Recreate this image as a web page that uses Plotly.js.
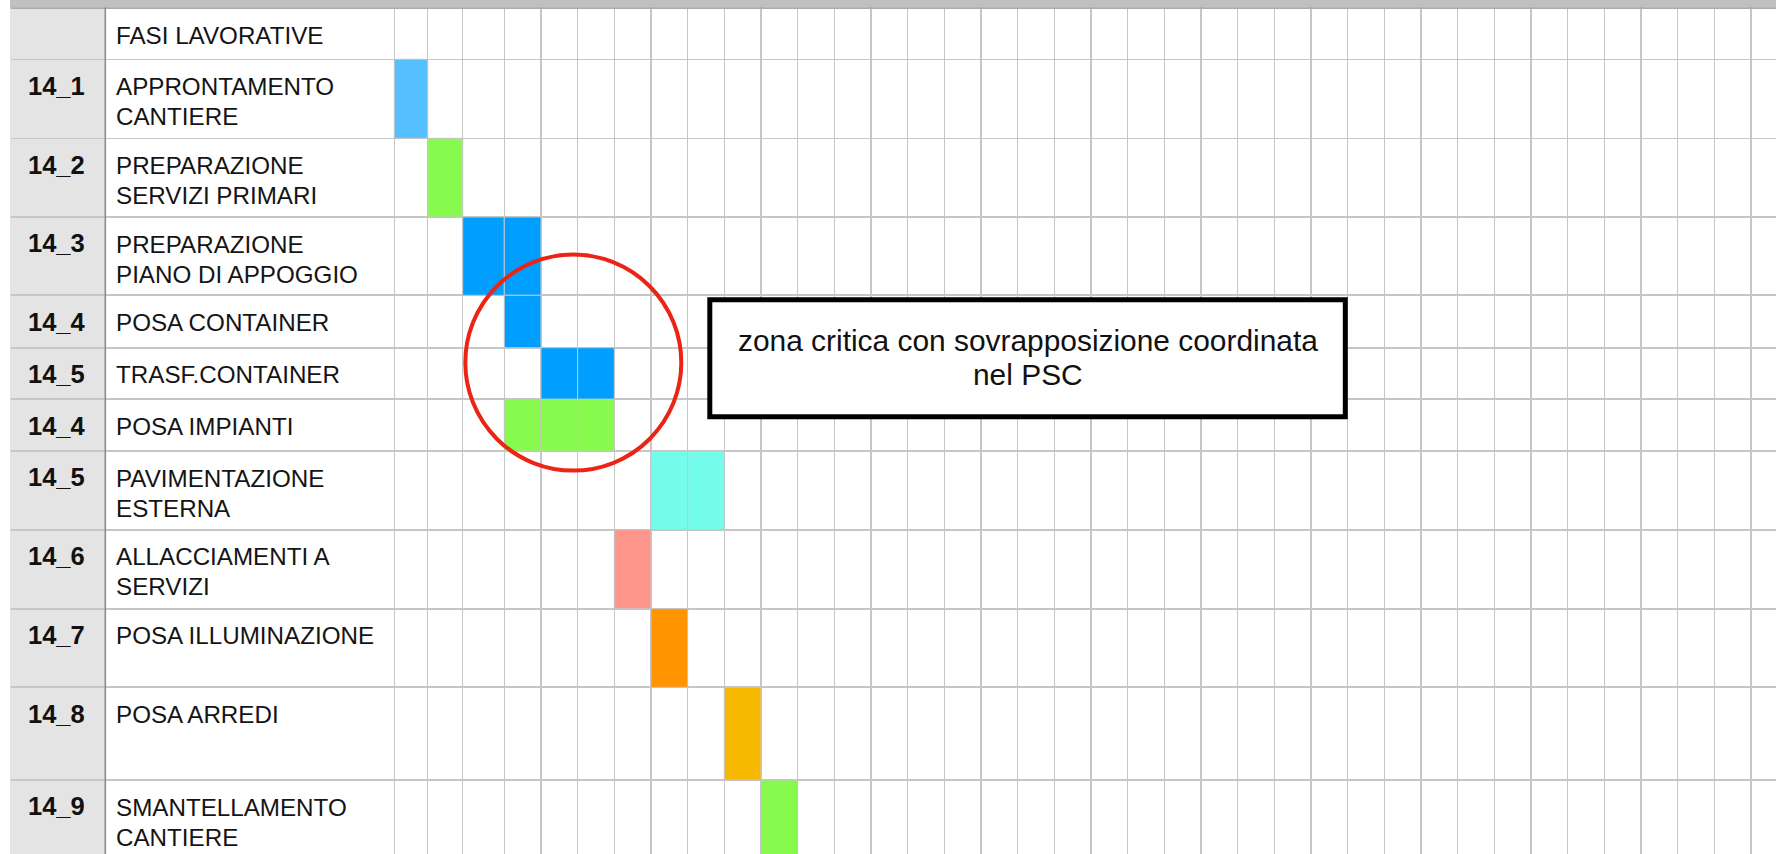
<!DOCTYPE html>
<html><head><meta charset="utf-8">
<script src="https://cdn.plot.ly/plotly-3.0.1.min.js"></script>
<style>html,body{margin:0;padding:0;background:#fff;overflow:hidden}#chart{width:1776px;height:854px}</style>
</head><body><div id="chart"></div>
<script>
// ---------------- data ----------------
const headerText = 'FASI LAVORATIVE';
const codes = ['14_1','14_2','14_3','14_4','14_5','14_4','14_5','14_6','14_7','14_8','14_9'];
const phases = ['APPRONTAMENTO<br>CANTIERE','PREPARAZIONE<br>SERVIZI PRIMARI','PREPARAZIONE<br>PIANO DI APPOGGIO',
  'POSA CONTAINER','TRASF.CONTAINER','POSA IMPIANTI','PAVIMENTAZIONE<br>ESTERNA','ALLACCIAMENTI A<br>SERVIZI',
  'POSA ILLUMINAZIONE','POSA ARREDI','SMANTELLAMENTO<br>CANTIERE'];
const startPeriod = [1,2,3,4,5,4,8,7,8,10,11];
const durationPeriods = [1,1,2,1,2,3,2,1,1,1,1];
const noteLines = ['zona critica con sovrapposizione coordinata','nel PSC'];
const totalPeriods = 38;

// ---------------- styles / layout ----------------
const phaseColors = ['#56BFFF','#88FA4E','#009FFF','#009FFF','#009FFF','#88FA4E','#73FDEA','#FF968D','#FF9300','#F6B900','#88FA4E'];
const W = 1776, H = 854;
const FONT = 'Liberation Sans, Arial, Helvetica, sans-serif';
const sheetLeft = 10, codeColRight = 105.3, gridLeft = 394.3;
const firstColWidths = [33.4, 35, 41.6], defaultColW = 36.67;
const topBarH = 8.4, headerH = 50.9;
const rowHeights = [79, 78.7, 78.3, 52.4, 51.6, 51.9, 78.5, 79, 78.6, 92.7, 80];
const gridColor = '#C6C6C6';
const nameSize = 24.2, nameLineGap = 30, codeSize = 25.5;

// column edges (period k spans edges[k-1]..edges[k])
const edges = [gridLeft];
for (let i = 0; i < totalPeriods; i++) edges.push(edges[i] + (firstColWidths[i] !== undefined ? firstColWidths[i] : defaultColW));
// row tops
const rowTops = [];
let yy = topBarH + headerH;
rowHeights.forEach(h => { rowTops.push(yy); yy += h; });
const rowLines = [topBarH, topBarH + headerH].concat(rowTops.map((t, i) => t + rowHeights[i]));

// bar cells
const bx = [], bbase = [], by = [], bw = [], bc = [];
codes.forEach((c, i) => {
  for (let k = 0; k < durationPeriods[i]; k++) {
    const p = startPeriod[i] - 1 + k;
    bbase.push(edges[p]); bx.push(edges[p + 1] - edges[p]);
    by.push(rowTops[i] + rowHeights[i] / 2); bw.push(rowHeights[i]); bc.push(phaseColors[i]);
  }
});

const traces = [{
  type: 'bar', orientation: 'h', x: bx, base: bbase, y: by, width: bw,
  marker: {color: bc, line: {color: gridColor, width: 1}}, hoverinfo: 'skip', showlegend: false
}];

const annotations = [];
function nameText(text, top) {
  text.split('<br>').forEach((ln, j) => {
    annotations.push({xref:'x', yref:'y', x: 113.5, y: top + 11.7 + j * nameLineGap, xanchor:'left', yanchor:'top', showarrow:false,
      text: ln, align:'left', font:{family:FONT, size:nameSize, color:'#141414'}});
  });
}
nameText(headerText, topBarH);
codes.forEach((c, i) => {
  annotations.push({xref:'x', yref:'y', x: 56.5, y: rowTops[i] + 10.2, xanchor:'center', yanchor:'top', showarrow:false,
    text: '<b>' + c + '</b>', font:{family:FONT, size:codeSize, color:'#111'}});
  nameText(phases[i], rowTops[i]);
});
// note box text
const noteCx = 1027.6, noteBaselines = [353.3, 386.7], noteSize = 29.9;
noteLines.forEach((t, i) => {
  annotations.push({xref:'x', yref:'y', x: noteCx, y: noteBaselines[i] - 4 - 0.905 * noteSize, xanchor:'center', yanchor:'top',
    showarrow:false, text: t, font:{family:FONT, size:noteSize, color:'#111'}});
});

const shapes = [
  {type:'rect', xref:'x', yref:'y', x0: sheetLeft, x1: codeColRight, y0: topBarH, y1: H, fillcolor:'#E3E4E3', line:{width:0}, layer:'below'},
  {type:'rect', xref:'x', yref:'y', x0: sheetLeft, x1: W, y0: 0, y1: 7.6, fillcolor:'#BFC0BF', line:{width:0}, layer:'above'},
  {type:'line', xref:'x', yref:'y', x0: sheetLeft, x1: W, y0: 8.0, y1: 8.0, line:{color:'#8F8F8F', width:1}, layer:'above'},
  {type:'line', xref:'x', yref:'y', x0: codeColRight, x1: codeColRight, y0: 7.6, y1: H, line:{color:'#8C8C8C', width:1.6}, layer:'above'},
  {type:'line', xref:'x', yref:'y', x0: sheetLeft + 0.5, x1: sheetLeft + 0.5, y0: 7.6, y1: H, line:{color:'#DCE8D8', width:1}, layer:'above'},
  {type:'rect', xref:'x', yref:'y', x0: 709.8, x1: 1345.3, y0: 299.8, y1: 416.8, fillcolor:'#FFFFFF', line:{color:'#000', width:5}, layer:'above'},
  {type:'circle', xref:'x', yref:'y', x0: 465.3, x1: 681.3, y0: 254.6, y1: 470.6, line:{color:'#EC2415', width:4}, layer:'above'}
];

const layout = {
  width: W, height: H, margin:{l:0, r:0, t:0, b:0, pad:0},
  paper_bgcolor:'#FFFFFF', plot_bgcolor:'#FFFFFF', showlegend:false, hovermode:false,
  barmode:'overlay',
  xaxis:{domain:[sheetLeft / W, 1], range:[sheetLeft, W], autorange:false, tickmode:'array', tickvals: edges,
    showgrid:true, gridcolor: gridColor, gridwidth:1.4, showticklabels:false, ticks:'', zeroline:false, showline:false, fixedrange:true},
  yaxis:{domain:[0, 1], range:[H, 0], autorange:false, tickmode:'array', tickvals: rowLines,
    showgrid:true, gridcolor: gridColor, gridwidth:1.6, showticklabels:false, ticks:'', zeroline:false, showline:false, fixedrange:true},
  shapes: shapes, annotations: annotations
};

Plotly.newPlot('chart', traces, layout, {staticPlot:true, displayModeBar:false});
</script>
</body></html>
